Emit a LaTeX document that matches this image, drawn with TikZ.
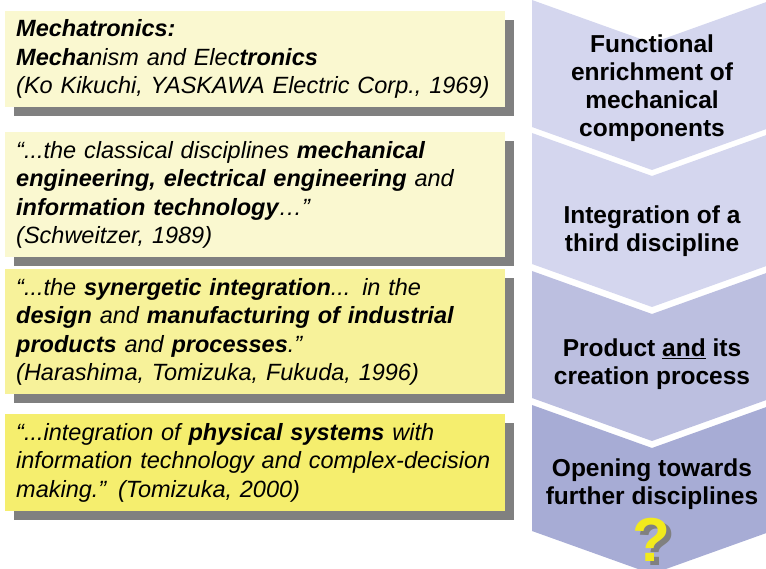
\documentclass[tikz,border=0pt]{standalone}
\usepackage{fontspec}
\setmainfont{Liberation Sans}
\usetikzlibrary{shadows}
\definecolor{quotelight}{HTML}{FAF8D0}
\definecolor{quotemid}{HTML}{F7F29A}
\definecolor{quotestrong}{HTML}{F5EE6E}
\definecolor{stagelight}{HTML}{D4D6EE}
\definecolor{stagemid}{HTML}{BCBFE0}
\definecolor{stagedark}{HTML}{A7ACD5}
\definecolor{shadowgray}{HTML}{808080}
\definecolor{qyellow}{HTML}{F2EA1C}
\begin{document}
\begin{tikzpicture} [x=1pt,y=-1pt,
quote/.style={anchor=north west,inner xsep=11pt,inner ysep=0pt,text width=478pt,align=left,
    font=\fontsize{23.5}{28.5}\selectfont\itshape,
    drop shadow={shadow xshift=9pt,shadow yshift=-9pt,fill=shadowgray,opacity=1}},
stage/.style={align=center,inner sep=0pt,font=\fontsize{24.5}{28}\selectfont\bfseries},
qsign/.style={anchor=base,inner sep=0pt,font=\fontsize{62}{62}\selectfont\bfseries},
]
    \useasboundingbox (0,0) rectangle (766,569);
    % chevrons on the right
    \foreach \ya/\yb/\col in {0/127/stagelight, 133/264/stagelight, 271/398/stagemid, 405/531/stagedark}
        \fill [\col] (532,\ya) -- (652,\ya+43) -- (772,\ya) -- (772,\yb) -- (652,\yb+43) -- (532,\yb) -- cycle;

    \node [stage] (functional) at (652,88) {Functional\\ enrichment of\\ mechanical\\ components};
    \node [stage] (third) at (652,231) {Integration of a\\ third discipline};
    \node [stage] (product) at (652,364) {Product \underline{and} its\\ creation process};
    \node [stage] (opening) at (652,484) {Opening towards\\ further disciplines};
    \node [qsign, text=shadowgray] (qshadow) at (656,565) {?};
    \node [qsign, text=qyellow] (qmark) at (651,561) {?};

    % quotations on the left
    \node [quote, fill=quotelight, minimum height=96pt] (kikuchi) at (5,11)
        {\textbf{Mechatronics:}\\ \textbf{Mecha}nism and Elec\textbf{tronics}\\ (Ko Kikuchi, YASKAWA Electric Corp., 1969)};
    \node [quote, fill=quotelight, minimum height=125pt] (schweitzer) at (5,132)
        {“...the classical disciplines \textbf{mechanical}\\ \textbf{engineering, electrical engineering} and\\ \textbf{information technology}…”\\ (Schweitzer, 1989)};
    \node [quote, fill=quotemid, minimum height=125pt] (harashima) at (5,269)
        {“...the \textbf{synergetic integration}... in the\\ \textbf{design} and \textbf{manufacturing of industrial}\\ \textbf{products} and \textbf{processes}.”\\ (Harashima, Tomizuka, Fukuda, 1996)};
    \node [quote, fill=quotestrong, minimum height=97pt] (tomizuka) at (5,414)
        {“...integration of \textbf{physical systems} with\\ information technology and complex-decision\\ making.” (Tomizuka, 2000)};
\end{tikzpicture}
\end{document}
